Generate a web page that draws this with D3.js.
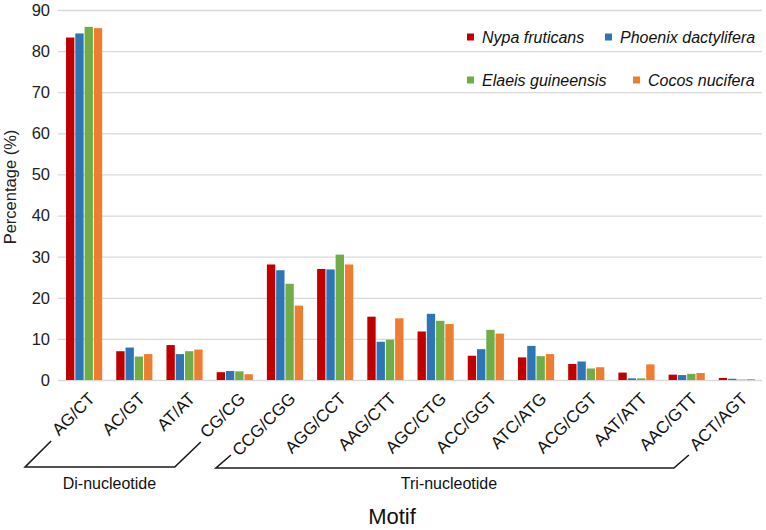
<!DOCTYPE html>
<html>
<head>
<meta charset="utf-8">
<script src="https://cdn.jsdelivr.net/npm/d3@7"></script>
<style>
  body { margin: 0; background: #fff; }
  svg { font-family: "Liberation Sans", Arial, sans-serif; }
</style>
</head>
<body>
<svg id="chart" width="766" height="530"></svg>
<script>
var motifs = ["AG/CT", "AC/GT", "AT/AT", "CG/CG", "CCG/CGG", "AGG/CCT", "AAG/CTT",
              "AGC/CTG", "ACC/GGT", "ATC/ATG", "ACG/CGT", "AAT/ATT", "AAC/GTT", "ACT/AGT"];
var species = ["Nypa fruticans", "Phoenix dactylifera", "Elaeis guineensis", "Cocos nucifera"];
var nypa    = [83.3, 7.0, 8.5, 1.9, 28.1, 27.0, 15.4, 11.8, 5.9, 5.5, 3.9, 1.8, 1.3, 0.5];
var phoenix = [84.3, 7.9, 6.3, 2.2, 26.7, 26.9, 9.3, 16.1, 7.5, 8.3, 4.5, 0.4, 1.2, 0.3];
var elaeis  = [85.9, 5.7, 7.0, 2.1, 23.4, 30.5, 9.8, 14.4, 12.2, 5.8, 2.8, 0.4, 1.5, 0.1];
var cocos   = [85.6, 6.3, 7.4, 1.4, 18.1, 28.1, 15.0, 13.6, 11.3, 6.3, 3.1, 3.8, 1.7, 0.2];
var yTicks = [0, 10, 20, 30, 40, 50, 60, 70, 80, 90];
var groups = [
  {name: "Di-nucleotide", first: "AG/CT", last: "CG/CG"},
  {name: "Tri-nucleotide", first: "CCG/CGG", last: "ACT/AGT"}
];
var colors = ["#C00000", "#2E75B6", "#70AD47", "#ED7D31"];
var seriesValues = [nypa, phoenix, elaeis, cocos];

var svg = d3.select("#chart");
var plotLeft = 59, plotRight = 762, plotTop = 10, plotBottom = 380;

var x0 = d3.scaleBand()
  .domain(motifs)
  .range([plotLeft, plotRight])
  .paddingInner(0.28)
  .paddingOuter(0.14);

var x1 = d3.scaleBand()
  .domain(species)
  .range([0, x0.bandwidth()])
  .paddingInner(0.1);

var y = d3.scaleLinear()
  .domain([0, 90])
  .range([plotBottom, plotTop]);

var color = d3.scaleOrdinal().domain(species).range(colors);

// gridlines
svg.append("g")
  .selectAll("line")
  .data(yTicks)
  .enter().append("line")
    .attr("x1", plotLeft - 1)
    .attr("x2", plotRight)
    .attr("y1", function(d) { return y(d) + 0.5; })
    .attr("y2", function(d) { return y(d) + 0.5; })
    .attr("stroke", "#d9d9d9")
    .attr("stroke-width", 1.3);

// y tick labels
svg.append("g")
  .selectAll("text")
  .data(yTicks)
  .enter().append("text")
    .attr("x", 50)
    .attr("y", function(d) { return y(d); })
    .attr("dy", "0.36em")
    .attr("text-anchor", "end")
    .attr("font-size", 16.5)
    .attr("fill", "#222")
    .text(function(d) { return d; });

svg.append("text")
  .attr("transform", "translate(16,187) rotate(-90)")
  .attr("text-anchor", "middle")
  .attr("font-size", 16.5)
  .attr("fill", "#222")
  .text("Percentage (%)");

// bars
var rows = motifs.map(function(m, i) {
  return {motif: m, values: species.map(function(s, j) {
    return {key: s, value: seriesValues[j][i]};
  })};
});

var g = svg.append("g");
g.selectAll(".grp")
  .data(rows)
  .enter().append("g")
    .attr("class", "grp")
    .attr("transform", function(d) { return "translate(" + x0(d.motif) + ",0)"; })
  .selectAll("rect")
  .data(function(d) { return d.values; })
  .enter().append("rect")
    .attr("x", function(d) { return x1(d.key); })
    .attr("y", function(d) { return y(d.value); })
    .attr("width", x1.bandwidth())
    .attr("height", function(d) { return y(0) - y(d.value); })
    .attr("fill", function(d) { return color(d.key); });

// x labels
svg.append("g")
  .selectAll("text")
  .data(motifs)
  .enter().append("text")
    .attr("transform", function(d) {
      return "translate(" + (x0(d) + x0.bandwidth() / 2 + 3) + ",391) rotate(-45)";
    })
    .attr("dy", "0.72em")
    .attr("text-anchor", "end")
    .attr("font-size", 17)
    .attr("fill", "#111")
    .text(function(d) { return d; });

// brackets
var cx = function(m) { return x0(m) + x0.bandwidth() / 2; };
var b0 = groups[0], b1 = groups[1];
var brackets = [
  {pts: [[cx(b0.first) - 33, 441], [cx(b0.first) - 59, 467], [cx(b0.last) - 60, 467], [cx(b0.last) - 34, 442]],
   label: b0.name, lx: (cx(b0.first) + cx(b0.last)) / 2 - 50},
  {pts: [[cx(b1.first) - 54, 455], [cx(b1.first) - 69, 468], [cx(b1.last) - 63, 468], [cx(b1.last) - 48, 455]],
   label: b1.name, lx: 449}
];
var line = d3.line();
brackets.forEach(function(b) {
  svg.append("path")
    .attr("d", line(b.pts))
    .attr("fill", "none")
    .attr("stroke", "#1a1a1a")
    .attr("stroke-width", 1.6);
  svg.append("text")
    .attr("x", b.lx)
    .attr("y", 489)
    .attr("text-anchor", "middle")
    .attr("font-size", 16)
    .attr("fill", "#111")
    .text(b.label);
});

svg.append("text")
  .attr("x", 392)
  .attr("y", 524)
  .attr("text-anchor", "middle")
  .attr("font-size", 22)
  .attr("fill", "#111")
  .text("Motif");

// legend
var legendPos = [[467, 37], [605, 37], [467, 80], [633, 80]];
var legend = svg.append("g")
  .selectAll("g")
  .data(species)
  .enter().append("g")
    .attr("transform", function(d, i) { return "translate(" + legendPos[i][0] + "," + legendPos[i][1] + ")"; });
legend.append("rect")
  .attr("x", 0)
  .attr("y", -3.5)
  .attr("width", 7)
  .attr("height", 7)
  .attr("fill", function(d) { return color(d); });
legend.append("text")
  .attr("x", 15)
  .attr("y", 0)
  .attr("dy", "0.36em")
  .attr("font-size", 16)
  .attr("font-style", "italic")
  .attr("fill", "#111")
  .text(function(d) { return d; });
</script>
</body>
</html>
